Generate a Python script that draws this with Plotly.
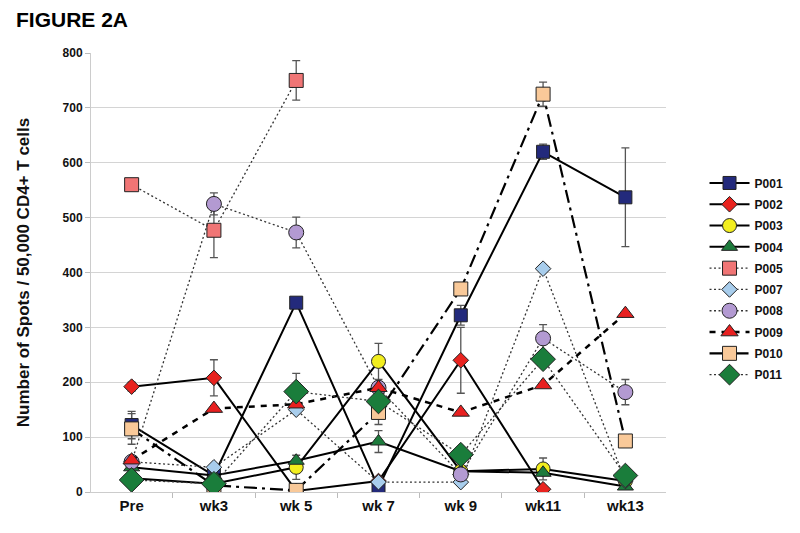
import plotly.graph_objects as go

# ---------------------------------------------------------------------------
# data
# ---------------------------------------------------------------------------
weeks = ["Pre", "wk3", "wk 5", "wk 7", "wk 9", "wk11", "wk13"]

p001 = [122, 30, 345, 8, 322, 620, 537]
p001_err = [25, None, None, None, 18, 14, 90]
p002 = [192, 208, 2, 20, 240, 5, None]
p002_err = [8, 33, None, None, 60, None, None]
p003 = [25, 15, 45, 238, 38, 42, 20]
p003_err = [None, None, 22, 33, None, 20, None]
p004 = [45, 30, 57, 92, 38, 35, 10]
p004_err = [None, None, None, 20, None, None, None]
p005 = [560, 477, 750, None, None, None, None]
p005_err = [None, 50, 36, None, None, None, None]
p007 = [55, 45, 150, 18, 18, 407, 20]
p007_err = [None] * 7
p008 = [55, 525, 473, 190, 32, 280, 182]
p008_err = [None, 20, 28, None, None, 25, 23]
p009 = [58, 152, 160, 190, 145, 195, 325]
p009_err = [None] * 7
p010 = [115, 12, 3, 145, 370, 725, 93]
p010_err = [28, None, None, 22, None, 22, None]
p011 = [22, 15, 183, 165, 68, 242, 30]
p011_err = [None, None, 33, None, None, None, None]

# name, values, errors, marker symbol, fill colour, marker size, line dash, line width
series = [
    ("P001", p001, p001_err, "square", "#232a7c", 13, "solid", 2),
    ("P002", p002, p002_err, "diamond", "#e8231f", 12, "solid", 2),
    ("P003", p003, p003_err, "circle", "#f2ee1e", 14, "solid", 2),
    ("P004", p004, p004_err, "triangle-up", "#1d7b3c", 14, "solid", 2),
    ("P005", p005, p005_err, "square", "#f07575", 14, "2px,2.5px", 1.3),
    ("P007", p007, p007_err, "diamond", "#a8cdec", 12, "2px,2.5px", 1.3),
    ("P008", p008, p008_err, "circle", "#b39ad2", 15, "2px,2.5px", 1.3),
    ("P009", p009, p009_err, "triangle-up", "#e82020", 15, "6px,6px", 2.5),
    ("P010", p010, p010_err, "square", "#f9c999", 14, "13px,5px,3px,5px", 2.2),
    ("P011", p011, p011_err, "diamond", "#1a7d3b", 19, "2px,2.5px", 1.3),
]

FONT = "Liberation Sans, Arial"

fig = go.Figure()

# error bars first so markers sit over them
for name, vals, errs, sym, col, size, dash, lw in series:
    ex = [w for w, e in zip(weeks, errs) if e is not None]
    ey = [v for v, e in zip(vals, errs) if e is not None]
    ee = [e for e in errs if e is not None]
    if not ex:
        continue
    fig.add_trace(go.Scatter(
        x=ex, y=ey, mode="markers", showlegend=False, hoverinfo="skip",
        marker=dict(size=1, opacity=0),
        error_y=dict(type="data", array=ee, color="#555555", thickness=1.3, width=4),
    ))

for name, vals, errs, sym, col, size, dash, lw in series:
    line_col = "#000000" if lw >= 2 else "#333333"
    fig.add_trace(go.Scatter(
        x=weeks, y=vals, name=name, legendgroup=name, mode="lines+markers",
        line=dict(color=line_col, width=lw, dash=dash),
        marker=dict(symbol=sym, size=size, color=col,
                    line=dict(color="#222222", width=1)),
        connectgaps=False,
    ))

# page body has an 8px margin, so the figure is a bit smaller and shifted
fig.update_layout(
    width=792, height=525,
    margin=dict(l=83, r=103, t=45, b=41),
    paper_bgcolor="white", plot_bgcolor="white",
    font=dict(family=FONT, color="#111111"),
    showlegend=True,
    legend=dict(
        x=1.067, y=0.737, xanchor="left", yanchor="top",
        font=dict(size=12, family=FONT, weight="bold"),
        itemwidth=40, tracegroupgap=2.3, bgcolor="rgba(0,0,0,0)",
    ),
    annotations=[
        dict(text="<b>FIGURE 2A</b>", x=-0.134, y=1.077,
             xref="paper", yref="paper", xanchor="left", yanchor="middle",
             showarrow=False, font=dict(size=21, family=FONT, color="#000000")),
        dict(text="<b>Number of Spots / 50,000 CD4+ T cells</b>", x=-0.117, y=0.5,
             xref="paper", yref="paper", xanchor="center", yanchor="middle",
             textangle=-90, showarrow=False,
             font=dict(size=17, family=FONT, color="#111111")),
    ],
)

fig.update_xaxes(
    type="category", categoryorder="array", categoryarray=weeks,
    showgrid=False, showline=True, linecolor="#cccccc", linewidth=1,
    ticks="outside", ticklen=5, tickcolor="#bbbbbb", tickson="boundaries",
    tickfont=dict(size=15, weight="bold", color="#111111"),
    zeroline=False,
)
fig.update_yaxes(
    range=[0, 800], dtick=100, showgrid=True, gridcolor="#d4d4d4", gridwidth=1,
    showline=True, linecolor="#cccccc", linewidth=1,
    ticks="outside", ticklen=5, tickcolor="#bbbbbb",
    tickfont=dict(size=12, weight="bold", color="#111111"),
    zeroline=False,
)

fig.write_html("out.html")
